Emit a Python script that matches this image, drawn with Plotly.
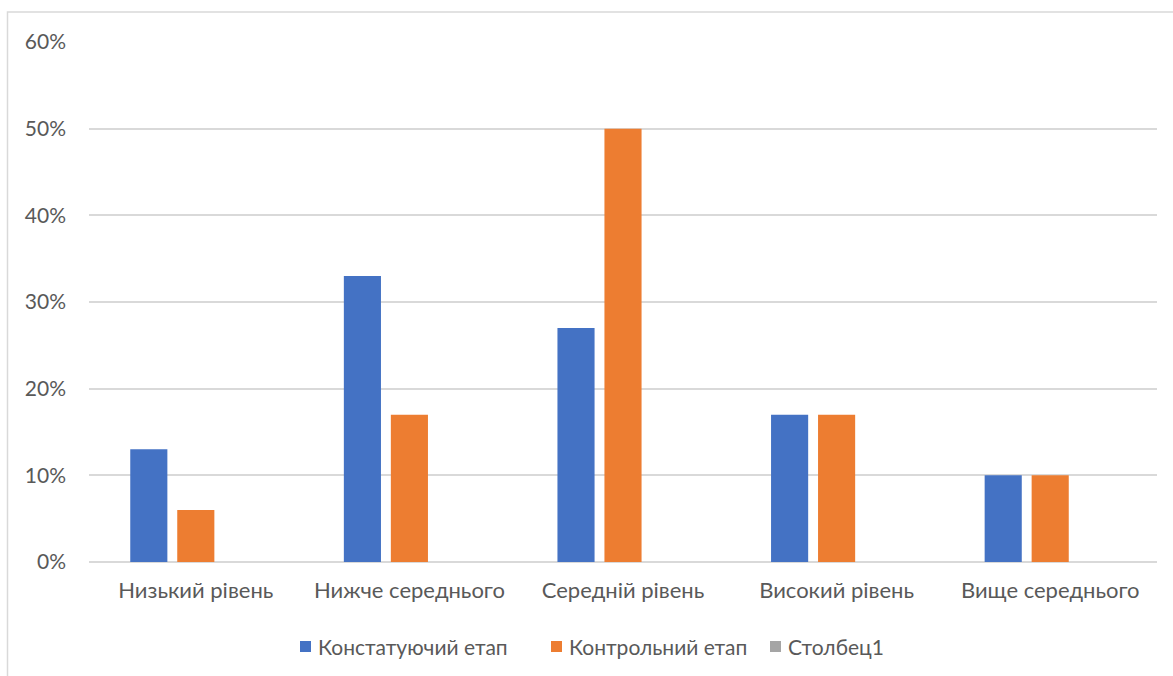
import plotly.graph_objects as go

categories = ["Низький рівень", "Нижче середнього", "Середній рівень", "Високий рівень", "Вище середнього"]
konstatuiuchyi = [13, 33, 27, 17, 10]
kontrolnyi = [6, 17, 50, 17, 10]
stovpets1 = [None, None, None, None, None]
tick_values = [0, 10, 20, 30, 40, 50, 60]
tick_labels = ["0%", "10%", "20%", "30%", "40%", "50%", "60%"]

series_names = ["Констатуючий етап", "Контрольний етап", "Столбец1"]
series_colors = ["#4472c4", "#ed7d31", "#a5a5a5"]

TEXT = "#595959"
GRID = "#d9d9d9"
FONT = "Lato, 'Open Sans', sans-serif"
FS = 21

fig = go.Figure()
for name, vals, col in zip(series_names, [konstatuiuchyi, kontrolnyi, stovpets1], series_colors):
    fig.add_trace(go.Bar(name=name, x=categories, y=vals,
                         marker=dict(color=col, line=dict(width=0))))

W, H = 1173, 676
L, R, T, B = 89, 16, 42, 114
pw, ph = W - L - R, H - T - B

def px_x(x):
    return (x - L) / pw

def px_y(y):
    return (H - B - y) / ph

# legend row drawn as coloured squares with labels beside them
legend_square_x = [300, 551, 770]
legend_y = 646
shapes = [dict(type="rect", xref="paper", yref="paper",
               x0=px_x(7.5), x1=px_x(1180), y0=px_y(12), y1=px_y(690),
               line=dict(color=GRID, width=1.5), layer="below")]
annotations = []
for sx, name, col in zip(legend_square_x, series_names, series_colors):
    shapes.append(dict(type="rect", xref="paper", yref="paper",
                       x0=px_x(sx), x1=px_x(sx + 11),
                       y0=px_y(legend_y + 6), y1=px_y(legend_y - 5),
                       fillcolor=col, line=dict(width=0)))
    annotations.append(dict(xref="paper", yref="paper", x=px_x(sx + 16), y=px_y(legend_y),
                            xanchor="left", yanchor="middle", showarrow=False,
                            text=name, font=dict(size=FS, color=TEXT, family=FONT)))

fig.update_layout(
    width=W, height=H,
    margin=dict(l=L, r=R, t=T, b=B),
    paper_bgcolor="white", plot_bgcolor="white",
    barmode="group", bargap=0.34, bargroupgap=0.21,
    font=dict(family=FONT, size=FS, color=TEXT),
    showlegend=False,
    xaxis=dict(showgrid=False, showline=False, ticks="", ticklabelstandoff=13,
               tickfont=dict(size=22, color=TEXT)),
    yaxis=dict(range=[0, 60], tickvals=tick_values, ticktext=tick_labels,
               showgrid=True, gridcolor=GRID, gridwidth=1.5,
               zeroline=True, zerolinecolor=GRID, zerolinewidth=1.5,
               showline=False, ticks="", ticklabelstandoff=22,
               tickfont=dict(size=FS, color=TEXT)),
    shapes=shapes,
    annotations=annotations,
)

fig.write_html("out.html")
